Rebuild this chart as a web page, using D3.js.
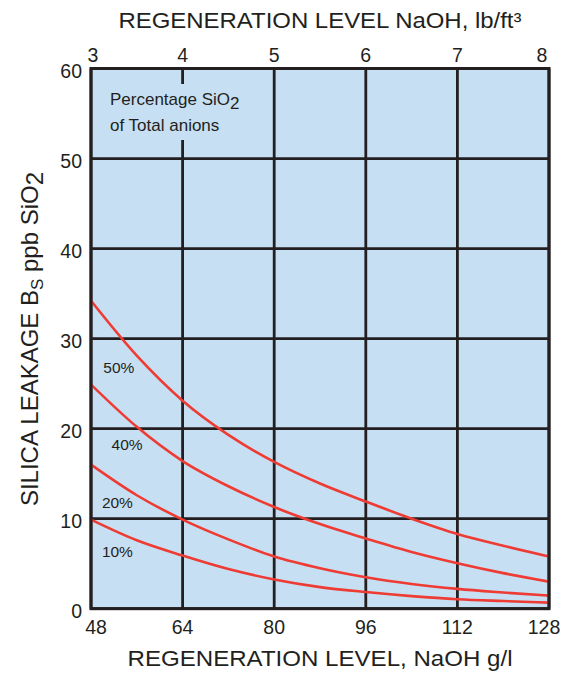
<!DOCTYPE html>
<html>
<head>
<meta charset="utf-8">
<script src="https://cdn.jsdelivr.net/npm/d3@7"></script>
<style>
  html, body { margin: 0; padding: 0; background: #ffffff; }
  svg { display: block; }
  text { font-family: "Liberation Sans", Arial, Helvetica, sans-serif; fill: #231f20; }
</style>
</head>
<body>
<svg id="chart" width="571" height="673"></svg>
<script>
// ---- data ----
const regenGL = [48, 56, 64, 72, 80, 88, 96, 104, 112, 120, 128];
const seriesNames = ["50%", "40%", "20%", "10%"];
const leak50 = [34.2, 28.1, 23.1, 19.3, 16.3, 13.9, 11.9, 10.0, 8.3, 7.0, 5.8];
const leak40 = [24.9, 20.2, 16.4, 13.6, 11.3, 9.4, 7.8, 6.3, 5.05, 3.95, 3.0];
const leak20 = [16.0, 12.6, 9.9, 7.7, 5.8, 4.5, 3.5, 2.75, 2.2, 1.8, 1.45];
const leak10 = [9.9, 7.6, 5.9, 4.4, 3.25, 2.4, 1.85, 1.4, 1.05, 0.85, 0.68];
const labelGL = [50.15, 51.6, 49.9, 49.9];
const labelPPB = [26.2, 17.6, 11.15, 5.7];
const bottomTicks = [48, 64, 80, 96, 112, 128];
const topTicks = [3, 4, 5, 6, 7, 8];
const yTicks = [0, 10, 20, 30, 40, 50, 60];

// ---- layout ----
const svg = d3.select("#chart");
const pL = 91, pR = 549, pT = 68.5, pB = 608.7;
const x = d3.scaleLinear().domain([48, 128]).range([pL, pR]);
const xTop = d3.scaleLinear().domain([3, 8]).range([pL, pR]);
const y = d3.scaleLinear().domain([0, 60]).range([pB, pT]);
const ink = "#231f20", red = "#ee3b33", blue = "#c7dff2";
const endShift = (i, n, a, b) => i === 0 ? a : (i === n - 1 ? b : 0);

svg.append("rect").attr("x", 0).attr("y", 0).attr("width", 571).attr("height", 673).attr("fill", "#fff");
svg.append("rect").attr("x", pL).attr("y", pT).attr("width", pR - pL).attr("height", pB - pT).attr("fill", blue);

// grid
const grid = svg.append("g").attr("stroke", ink).attr("stroke-width", 2.8);
grid.selectAll("line.v").data(bottomTicks).enter().append("line")
  .attr("x1", d => x(d)).attr("x2", d => x(d)).attr("y1", pT).attr("y2", pB);
grid.selectAll("line.h").data(yTicks).enter().append("line")
  .attr("x1", pL).attr("x2", pR).attr("y1", d => y(d)).attr("y2", d => y(d));

// legend annotation (box hides grid line behind it)
svg.append("rect").attr("x", 106).attr("y", 84).attr("width", 148).attr("height", 56).attr("fill", blue);
const leg = svg.append("text").attr("x", 110).attr("y", 105).style("font-size", "17px");
leg.append("tspan").text("Percentage SiO");
leg.append("tspan").attr("dy", 4).style("font-size", "17px").text("2");
svg.append("text").attr("x", 110).attr("y", 130.7).style("font-size", "17px").text("of Total anions");

// curves
svg.append("clipPath").attr("id", "clip").append("rect")
  .attr("x", pL).attr("y", pT).attr("width", pR - pL).attr("height", pB - pT);
const line = d3.line().x(d => x(d[0])).y(d => y(d[1])).curve(d3.curveMonotoneX);
[leak50, leak40, leak20, leak10].forEach(vals => {
  svg.append("path").attr("clip-path", "url(#clip)")
    .attr("d", line(regenGL.map((g, i) => [g, vals[i]])))
    .attr("fill", "none").attr("stroke", red).attr("stroke-width", 2.6);
});

// curve labels
svg.selectAll("text.cl").data(seriesNames).enter().append("text")
  .attr("x", (d, i) => x(labelGL[i])).attr("y", (d, i) => y(labelPPB[i]))
  .style("font-size", "15.5px").text(d => d);

// border
svg.append("rect").attr("x", pL).attr("y", pT).attr("width", pR - pL).attr("height", pB - pT)
  .attr("fill", "none").attr("stroke", ink).attr("stroke-width", 3);

// tick labels
svg.selectAll("text.bt").data(bottomTicks).enter().append("text")
  .attr("x", d => x(d)).attr("dx", (d, i) => endShift(i, bottomTicks.length, 5, -5))
  .attr("y", 634).attr("text-anchor", "middle")
  .style("font-size", "19.5px").text(d => d);
svg.selectAll("text.tt").data(topTicks).enter().append("text")
  .attr("x", d => xTop(d)).attr("dx", (d, i) => endShift(i, topTicks.length, 2, -7))
  .attr("y", 61.7).attr("text-anchor", "middle")
  .style("font-size", "19.5px").text(d => d);
svg.selectAll("text.yt").data(yTicks).enter().append("text")
  .attr("x", 82).attr("y", d => y(d) + 2).attr("dy", "0.36em").attr("text-anchor", "end")
  .style("font-size", "19.5px").text(d => d);

// axis titles
svg.append("text").attr("x", 320).attr("y", 28.3).attr("text-anchor", "middle")
  .attr("textLength", 403).attr("lengthAdjust", "spacingAndGlyphs")
  .style("font-size", "21.5px").text("REGENERATION LEVEL NaOH, lb/ft³");
svg.append("text").attr("x", 320).attr("y", 666).attr("text-anchor", "middle")
  .attr("textLength", 385).attr("lengthAdjust", "spacingAndGlyphs")
  .style("font-size", "21.5px").text("REGENERATION LEVEL, NaOH g/l");
const yt = svg.append("text").attr("transform", "translate(37.5,339) rotate(-90)")
  .attr("text-anchor", "middle").style("font-size", "24px");
yt.append("tspan").text("SILICA LEAKAGE B");
yt.append("tspan").attr("dy", 5).style("font-size", "17px").text("S");
yt.append("tspan").attr("dy", -5).text(" ppb SiO");
yt.append("tspan").attr("dy", 5).style("font-size", "24px").text("2");
</script>
</body>
</html>
